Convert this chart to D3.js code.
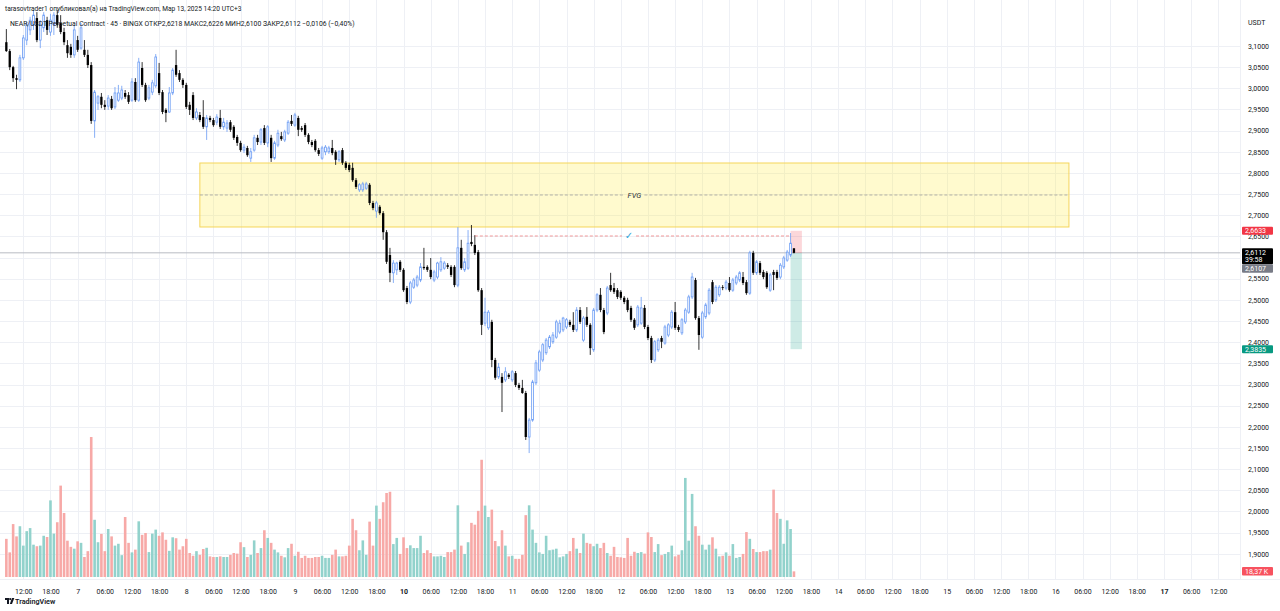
<!DOCTYPE html>
<html>
<head>
<meta charset="utf-8">
<script src="https://cdn.jsdelivr.net/npm/d3@7"></script>
<style>
  body { margin: 0; background: #fff; }
  svg { display: block; font-family: Roboto, "Noto Sans", sans-serif; }
</style>
</head>
<body>
<svg id="chart" width="1280" height="611"></svg>
<script>
// 45m candles, NEAR/USDT perp, one array per day: [open, high, low, close]
const candles6 = [
  [3.109,3.140,3.086,3.088],[3.088,3.093,3.043,3.050],[3.050,3.053,3.015,3.024],[3.024,3.032,2.998,3.020],
  [3.020,3.079,3.015,3.072],[3.072,3.126,3.067,3.119],[3.114,3.157,3.102,3.150],[3.138,3.169,3.126,3.161],
  [3.150,3.185,3.138,3.173],[3.166,3.180,3.109,3.114],[3.114,3.161,3.095,3.150],[3.143,3.180,3.133,3.173],
  [3.161,3.169,3.126,3.138],[3.133,3.176,3.124,3.161],[3.150,3.180,3.126,3.173],[3.173,3.185,3.143,3.150],
  [3.154,3.173,3.128,3.133],[3.133,3.143,3.102,3.109],[3.102,3.114,3.072,3.083],[3.098,3.105,3.072,3.079],
  [3.079,3.150,3.072,3.138]
];
const candles7 = [
  [3.114,3.124,3.086,3.091],[3.095,3.154,3.091,3.143],[3.091,3.114,3.074,3.079],[3.079,3.091,3.048,3.055],
  [3.055,3.062,2.916,2.923],[2.923,2.996,2.883,2.991],[2.965,2.984,2.949,2.980],[2.980,2.989,2.953,2.961],
  [2.961,2.972,2.949,2.956],[2.958,2.984,2.949,2.977],[2.975,2.982,2.949,2.953],[2.956,3.003,2.951,2.989],
  [2.972,3.008,2.968,2.989],[2.977,3.006,2.972,2.996],[2.989,2.996,2.975,2.980],[2.984,2.991,2.963,2.968],
  [2.972,3.024,2.968,3.015],[3.015,3.024,2.968,2.972],[2.972,3.072,2.968,3.062],[3.048,3.062,3.003,3.008],
  [3.008,3.013,2.968,2.972],[2.977,3.008,2.972,3.001],[2.991,3.020,2.984,3.013],[3.006,3.081,3.001,3.074],
  [3.036,3.060,2.984,2.989],[2.991,2.996,2.939,2.944],[2.949,2.953,2.920,2.942],[2.944,3.003,2.942,2.989],
  [2.989,3.048,2.984,3.043],[3.055,3.091,3.027,3.032],[3.036,3.043,3.015,3.020],[3.020,3.024,3.001,3.008]
];
const candles8 = [
  [3.008,3.013,2.951,2.956],[2.961,2.968,2.937,2.949],[2.984,2.991,2.925,2.930],[2.930,2.953,2.925,2.944],
  [2.937,2.944,2.920,2.925],[2.932,2.972,2.904,2.909],[2.909,2.937,2.878,2.930],[2.930,2.935,2.920,2.925],
  [2.925,2.930,2.909,2.913],[2.920,2.939,2.913,2.932],[2.930,2.949,2.904,2.909],[2.909,2.930,2.902,2.920],
  [2.906,2.925,2.897,2.918],[2.920,2.925,2.897,2.902],[2.909,2.913,2.878,2.883],[2.885,2.890,2.864,2.871],
  [2.871,2.876,2.850,2.854],[2.854,2.868,2.847,2.861],[2.859,2.864,2.838,2.842],[2.835,2.859,2.826,2.850],
  [2.854,2.890,2.850,2.883],[2.883,2.890,2.866,2.873],[2.873,2.906,2.866,2.902],[2.906,2.913,2.866,2.871],
  [2.871,2.913,2.861,2.909],[2.883,2.890,2.826,2.835],[2.835,2.876,2.831,2.871],[2.866,2.902,2.861,2.894],
  [2.887,2.897,2.876,2.880],[2.878,2.902,2.873,2.897],[2.894,2.925,2.890,2.920],[2.923,2.937,2.911,2.916]
];
const candles9 = [
  [2.913,2.942,2.909,2.937],[2.930,2.935,2.887,2.902],[2.906,2.911,2.897,2.902],[2.913,2.918,2.885,2.890],
  [2.890,2.894,2.868,2.873],[2.873,2.878,2.861,2.866],[2.876,2.880,2.850,2.854],[2.854,2.859,2.840,2.845],
  [2.835,2.864,2.831,2.859],[2.850,2.866,2.842,2.861],[2.850,2.864,2.845,2.859],[2.859,2.878,2.842,2.847],
  [2.850,2.854,2.819,2.831],[2.831,2.854,2.826,2.850],[2.854,2.859,2.819,2.824],[2.824,2.828,2.807,2.812],
  [2.819,2.824,2.802,2.807],[2.812,2.824,2.779,2.783],[2.783,2.788,2.762,2.767],[2.760,2.776,2.755,2.772],
  [2.760,2.779,2.755,2.774],[2.764,2.779,2.760,2.774],[2.772,2.776,2.724,2.729],[2.729,2.734,2.712,2.717],
  [2.710,2.734,2.694,2.729],[2.720,2.724,2.701,2.705],[2.705,2.710,2.642,2.660],[2.660,2.665,2.585,2.590],
  [2.606,2.623,2.542,2.564],[2.564,2.594,2.540,2.587],[2.571,2.590,2.559,2.587],[2.590,2.594,2.566,2.571]
];
const candles10 = [
  [2.571,2.575,2.519,2.523],[2.528,2.533,2.490,2.495],[2.495,2.545,2.490,2.540],[2.530,2.552,2.526,2.547],
  [2.535,2.559,2.530,2.554],[2.547,2.587,2.542,2.578],[2.578,2.623,2.571,2.575],[2.578,2.582,2.566,2.571],
  [2.571,2.599,2.549,2.554],[2.547,2.571,2.542,2.566],[2.554,2.590,2.549,2.587],[2.571,2.601,2.566,2.590],
  [2.575,2.592,2.571,2.587],[2.582,2.587,2.573,2.578],[2.578,2.582,2.554,2.559],[2.578,2.582,2.530,2.535],
  [2.535,2.672,2.530,2.623],[2.623,2.642,2.571,2.575],[2.571,2.599,2.566,2.590],[2.575,2.665,2.571,2.634],
  [2.637,2.677,2.627,2.632],[2.630,2.653,2.606,2.611],[2.613,2.618,2.519,2.523],[2.523,2.528,2.417,2.441],
  [2.445,2.505,2.438,2.471],[2.434,2.476,2.429,2.471],[2.448,2.453,2.341,2.358],[2.358,2.363,2.311,2.316],
  [2.318,2.351,2.313,2.341],[2.318,2.327,2.235,2.304],[2.311,2.341,2.306,2.330],[2.323,2.327,2.313,2.318]
];
const candles11 = [
  [2.311,2.334,2.306,2.330],[2.327,2.332,2.294,2.299],[2.299,2.304,2.287,2.292],[2.292,2.311,2.278,2.280],
  [2.280,2.285,2.169,2.176],[2.176,2.221,2.138,2.216],[2.216,2.311,2.212,2.306],[2.304,2.358,2.299,2.351],
  [2.334,2.382,2.330,2.377],[2.358,2.398,2.353,2.394],[2.375,2.410,2.370,2.405],[2.389,2.417,2.384,2.412],
  [2.401,2.424,2.396,2.417],[2.412,2.453,2.408,2.448],[2.424,2.453,2.419,2.445],[2.429,2.460,2.424,2.457],
  [2.436,2.457,2.431,2.453],[2.448,2.453,2.436,2.441],[2.441,2.471,2.424,2.429],[2.429,2.483,2.424,2.476],
  [2.476,2.483,2.443,2.448],[2.405,2.462,2.401,2.457],[2.460,2.483,2.436,2.441],[2.441,2.445,2.370,2.386],
  [2.382,2.481,2.377,2.476],[2.476,2.516,2.471,2.512],[2.512,2.528,2.471,2.476],[2.476,2.481,2.419,2.424],
  [2.469,2.533,2.464,2.528],[2.535,2.564,2.519,2.523],[2.528,2.540,2.514,2.519],[2.523,2.528,2.502,2.507]
];
const candles12 = [
  [2.519,2.523,2.500,2.505],[2.505,2.509,2.490,2.495],[2.500,2.505,2.471,2.476],[2.481,2.486,2.448,2.453],
  [2.453,2.457,2.429,2.434],[2.441,2.488,2.436,2.483],[2.445,2.507,2.441,2.481],[2.481,2.488,2.431,2.436],
  [2.436,2.441,2.405,2.410],[2.410,2.415,2.351,2.358],[2.358,2.405,2.353,2.401],[2.382,2.410,2.377,2.405],
  [2.410,2.415,2.386,2.401],[2.398,2.441,2.394,2.436],[2.417,2.445,2.412,2.441],[2.436,2.476,2.431,2.471],
  [2.471,2.495,2.429,2.434],[2.436,2.441,2.424,2.429],[2.422,2.457,2.417,2.453],[2.448,2.481,2.443,2.476],
  [2.471,2.512,2.467,2.507],[2.507,2.564,2.502,2.554],[2.547,2.552,2.453,2.457],[2.457,2.462,2.382,2.417],
  [2.412,2.474,2.408,2.469],[2.460,2.493,2.455,2.488],[2.469,2.528,2.464,2.523],[2.542,2.547,2.490,2.495],
  [2.500,2.535,2.495,2.530],[2.512,2.535,2.507,2.530],[2.530,2.535,2.523,2.528],[2.528,2.547,2.523,2.542]
];
const candles13 = [
  [2.540,2.554,2.519,2.523],[2.523,2.552,2.519,2.547],[2.540,2.559,2.535,2.554],[2.547,2.568,2.542,2.564],
  [2.554,2.566,2.535,2.540],[2.542,2.547,2.512,2.516],[2.516,2.616,2.512,2.611],[2.611,2.616,2.559,2.564],
  [2.564,2.594,2.559,2.590],[2.587,2.592,2.559,2.564],[2.566,2.571,2.549,2.554],[2.564,2.568,2.526,2.530],
  [2.523,2.564,2.519,2.559],[2.566,2.571,2.523,2.559],[2.566,2.571,2.547,2.552],[2.554,2.587,2.549,2.582],
  [2.578,2.604,2.573,2.599],[2.594,2.618,2.590,2.613],[2.606,2.658,2.601,2.634],[2.6218,2.6226,2.6100,2.6112]
];

// volume per candle, thousands
const volume6 = [124,80,172,132,165,102,149,159,105,100,102,134,130,249,141,178,297,208,118,98,92];
const volume7 = [116,111,65,84,455,186,113,140,84,156,132,102,108,71,195,111,80,89,181,
  137,143,81,141,154,134,145,121,85,129,126,89,100];
const volume8 = [124,78,69,84,72,91,95,67,65,65,67,65,65,72,78,76,113,97,65,72,119,78,94,152,127,111,89,
  80,69,64,94,108];
const volume9 = [69,82,62,69,62,62,65,65,69,62,62,72,89,67,67,69,102,189,152,87,119,72,180,102,232,
  189,243,273,277,107,127,75];
const volume10 = [129,94,103,94,94,134,78,87,78,67,67,69,65,81,81,89,233,102,75,
  113,176,170,215,381,232,195,219,117,100,152,102,67];
const volume11 = [69,59,59,72,201,233,154,111,80,75,134,87,89,92,64,67,75,84,127,92,78,141,111,108,100,108,94,
  111,78,69,98,65];
const volume12 = [64,62,127,69,82,78,81,76,145,130,81,107,71,75,81,102,67,72,87,322,118,270,165,134,105,
  89,105,129,92,67,69,80];
const volume13 = [69,107,62,65,75,146,124,91,81,81,84,84,89,284,208,189,108,184,156,18.37];

const firstCandle = Date.UTC(2025, 2, 6, 8, 15);
const candleMs = 45 * 60 * 1000;

// drawings
const fvgZone = { from: Date.UTC(2025, 2, 8, 3, 0), to: Date.UTC(2025, 2, 16, 3, 0), top: 2.8235, bottom: 2.6723, label: "FVG" };
const sweepLine = { from: Date.UTC(2025, 2, 10, 15, 45), to: Date.UTC(2025, 2, 13, 13, 30), price: 2.651 };
const position = { from: Date.UTC(2025, 2, 13, 13, 30), to: Date.UTC(2025, 2, 13, 16, 0), entry: 2.6107, stop: 2.6633, target: 2.3835 };
const lastPrice = 2.6112, countdown = "39:58", lastVolume = "18,37 K";

// 2,6000 sits under the last-price tag, so it is left out like on the original
const priceTicks = d3.range(1.9, 3.1001, 0.05);
const priceLabels = priceTicks.filter(p => Math.abs(p - 2.6) > 0.001);
const timeTicks = d3.utcHour.every(6).range(new Date(Date.UTC(2025, 2, 6, 12)), new Date(Date.UTC(2025, 2, 17, 13)));
const boldDays = [10, 17];

const headerLine1 = "tarasovtrader1 опубликовал(а) на TradingView.com, Мар 13, 2025 14:20 UTC+3";
const headerTitle = "NEAR/USDT Perpetual Contract · 45 · BINGX";
const headerOhlc = [["ОТКР", "2,6218"], ["МАКС", "2,6226"], ["МИН", "2,6100"], ["ЗАКР", "2,6112"]];
const headerChange = "−0,0106 (−0,40%)";

const allCandles = [].concat(candles6, candles7, candles8, candles9, candles10, candles11, candles12, candles13);
const allVolumes = [].concat(volume6, volume7, volume8, volume9, volume10, volume11, volume12, volume13);
const bars = allCandles.map((d, i) => ({
  t: new Date(firstCandle + i * candleMs), o: d[0], h: d[1], l: d[2], c: d[3], v: allVolumes[i]
}));

const W = 1280, H = 611, plotRight = 1240, plotBottom = 579;
const ink = "#131722", upColor = "#6a9bf4", downColor = "#000000";

const loc = d3.formatLocale({ decimal: ",", thousands: " ", grouping: [3], currency: ["", ""] });
const fmtPrice = loc.format(".4f");

const x = d3.scaleUtc()
  .domain([new Date(Date.UTC(2025, 2, 6)), new Date(Date.UTC(2025, 2, 17))])
  .range([-31, 1164]);
const y = d3.scaleLinear().domain([2.15, 3.1]).range([448, 46]);
const yv = d3.scaleLinear().domain([0, 455]).range([577, 437]);

const svg = d3.select("#chart");
svg.append("rect").attr("width", W).attr("height", H).attr("fill", "#fff");

// grid
const grid = svg.append("g");
grid.selectAll(".hg").data(priceTicks).join("line")
  .attr("x1", 0).attr("x2", plotRight)
  .attr("y1", d => Math.round(y(d)) + 0.5).attr("y2", d => Math.round(y(d)) + 0.5)
  .attr("stroke", "#eef0f5");
grid.selectAll(".vg").data(timeTicks).join("line")
  .attr("x1", d => Math.round(x(d)) + 0.5).attr("x2", d => Math.round(x(d)) + 0.5)
  .attr("y1", 0).attr("y2", plotBottom)
  .attr("stroke", "#eef0f5");

// FVG zone
svg.append("rect")
  .attr("x", x(fvgZone.from)).attr("width", x(fvgZone.to) - x(fvgZone.from))
  .attr("y", y(fvgZone.top)).attr("height", y(fvgZone.bottom) - y(fvgZone.top))
  .attr("fill", "rgba(255,235,59,0.25)").attr("stroke", "#f5d55a").attr("stroke-width", 1);
const fvgMid = y((fvgZone.top + fvgZone.bottom) / 2);
const fvgCx = (x(fvgZone.from) + x(fvgZone.to)) / 2;
svg.append("line").attr("x1", x(fvgZone.from)).attr("x2", fvgCx - 10)
  .attr("y1", fvgMid).attr("y2", fvgMid)
  .attr("stroke", "#a0a0a0").attr("stroke-dasharray", "3,2").attr("stroke-width", 0.8);
svg.append("line").attr("x1", fvgCx + 10).attr("x2", x(fvgZone.to))
  .attr("y1", fvgMid).attr("y2", fvgMid)
  .attr("stroke", "#a0a0a0").attr("stroke-dasharray", "3,2").attr("stroke-width", 0.8);
svg.append("text").attr("x", fvgCx).attr("y", fvgMid + 2.7)
  .attr("text-anchor", "middle").attr("font-size", 7.5).attr("font-style", "italic")
  .attr("fill", "#2a2e39").text(fvgZone.label);

// volume
svg.append("g").selectAll("rect").data(bars).join("rect")
  .attr("x", d => x(d.t) - 1.3).attr("width", 2.6)
  .attr("y", d => yv(d.v)).attr("height", d => yv(0) - yv(d.v))
  .attr("fill", d => d.c >= d.o ? "#92d2cc" : "#f7a9a7");

// last price line
svg.append("line").attr("x1", 0).attr("x2", plotRight)
  .attr("y1", y(lastPrice)).attr("y2", y(lastPrice))
  .attr("stroke", "#b8bbc2").attr("stroke-width", 1);

// position tool
svg.append("rect").attr("x", x(position.from)).attr("width", x(position.to) - x(position.from))
  .attr("y", y(position.stop)).attr("height", y(position.entry) - y(position.stop))
  .attr("fill", "rgba(242,54,69,0.2)");
svg.append("rect").attr("x", x(position.from)).attr("width", x(position.to) - x(position.from))
  .attr("y", y(position.entry)).attr("height", y(position.target) - y(position.entry))
  .attr("fill", "rgba(8,153,129,0.2)");

// candles
const cg = svg.append("g");
cg.selectAll("line").data(bars).join("line")
  .attr("x1", d => x(d.t)).attr("x2", d => x(d.t))
  .attr("y1", d => y(d.h)).attr("y2", d => y(d.l))
  .attr("stroke", d => d.c >= d.o ? upColor : downColor).attr("stroke-width", 0.8);
cg.selectAll("rect").data(bars).join("rect")
  .attr("x", d => x(d.t) - (d.c >= d.o ? 0.9 : 1.15))
  .attr("width", d => d.c >= d.o ? 1.8 : 2.3)
  .attr("y", d => y(Math.max(d.o, d.c)))
  .attr("height", d => Math.max(0.8, Math.abs(y(d.o) - y(d.c))))
  .attr("fill", d => d.c >= d.o ? "#fff" : downColor)
  .attr("stroke", d => d.c >= d.o ? upColor : "none")
  .attr("stroke-width", 0.8);

// sweep line with check mark
const swMid = 629;
svg.append("line").attr("x1", x(sweepLine.from)).attr("x2", swMid - 7)
  .attr("y1", y(sweepLine.price)).attr("y2", y(sweepLine.price))
  .attr("stroke", "#f08080").attr("stroke-dasharray", "3,2").attr("stroke-width", 0.8);
svg.append("line").attr("x1", swMid + 7).attr("x2", x(sweepLine.to))
  .attr("y1", y(sweepLine.price)).attr("y2", y(sweepLine.price))
  .attr("stroke", "#f08080").attr("stroke-dasharray", "3,2").attr("stroke-width", 0.8);
svg.append("text").attr("x", swMid).attr("y", y(sweepLine.price) + 3.5)
  .attr("text-anchor", "middle").attr("font-size", 10).attr("font-weight", "bold")
  .attr("font-family", "DejaVu Sans, sans-serif")
  .attr("fill", "#2fa4d9").text("✓");

// frame lines
svg.append("line").attr("x1", plotRight + 0.5).attr("x2", plotRight + 0.5)
  .attr("y1", 0).attr("y2", plotBottom).attr("stroke", "#eef0f5");
svg.append("line").attr("x1", 0).attr("x2", W)
  .attr("y1", plotBottom + 0.5).attr("y2", plotBottom + 0.5).attr("stroke", "#eef0f5");

// price axis
const yAxis = svg.append("g").attr("transform", `translate(${plotRight + 8},0)`)
  .call(d3.axisRight(y).tickValues(priceLabels).tickFormat(fmtPrice).tickSize(0).tickPadding(0));
yAxis.select(".domain").remove();
yAxis.selectAll("text").attr("font-size", 7).attr("fill", ink).attr("font-family", "Roboto, sans-serif");

svg.append("text").attr("x", plotRight + 8).attr("y", 24.5)
  .attr("font-size", 7).attr("fill", ink).text("USDT");

// time axis
const xAxis = svg.append("g").attr("transform", `translate(0,${plotBottom + 10})`)
  .call(d3.axisBottom(x).tickValues(timeTicks).tickSize(0).tickPadding(0)
    .tickFormat(d => d.getUTCHours() === 0 ? String(d.getUTCDate()) : d3.utcFormat("%H:%M")(d)));
xAxis.select(".domain").remove();
xAxis.selectAll("text").attr("font-size", 7).attr("fill", ink).attr("font-family", "Roboto, sans-serif")
  .attr("font-weight", d => d.getUTCHours() === 0 && boldDays.includes(d.getUTCDate()) ? "bold" : "normal");

// tags on the price axis
function axisTag(cy, h, fill) {
  svg.append("rect").attr("x", plotRight + 2).attr("width", 31)
    .attr("y", cy - h / 2).attr("height", h).attr("rx", 1).attr("fill", fill);
}
function tagText(ty, text) {
  svg.append("text").attr("x", plotRight + 5).attr("y", ty).attr("font-size", 7).attr("fill", "#fff").text(text);
}
const stopY = y(position.stop);
axisTag(stopY, 8, "#f23645");
tagText(stopY + 2.5, fmtPrice(position.stop));
const targetY = y(position.target);
axisTag(targetY, 8, "#089981");
tagText(targetY + 2.5, fmtPrice(position.target));

const lpY = y(lastPrice);
svg.append("rect").attr("x", plotRight + 2).attr("width", 31).attr("y", lpY - 4.5).attr("height", 16)
  .attr("rx", 1).attr("fill", "#000");
tagText(lpY + 2, fmtPrice(lastPrice));
tagText(lpY + 9.5, countdown);
svg.append("rect").attr("x", plotRight + 2).attr("width", 31).attr("y", lpY + 11.5).attr("height", 8.5)
  .attr("rx", 1).attr("fill", "#787b86");
tagText(lpY + 18.2, fmtPrice(position.entry));

const lvY = yv(allVolumes[allVolumes.length - 1]);
axisTag(lvY, 8.5, "#f7525f");
tagText(lvY + 2.5, lastVolume);

// header
svg.append("text").attr("x", 5).attr("y", 10.5).attr("font-size", 6.6).attr("fill", ink).text(headerLine1);
const h2 = svg.append("text").attr("x", 10).attr("y", 25.5).attr("font-size", 6.8).attr("fill", ink);
h2.append("tspan").text(headerTitle + "  ");
headerOhlc.forEach(([k, v]) => {
  h2.append("tspan").text(k + v + "  ");
});
h2.append("tspan").text(headerChange);

// footer logo
const logo = svg.append("g").attr("transform", "translate(5,598)").attr("fill", ink);
logo.append("path").attr("d", "M0,0 H4 V6 H2 V2 H0 Z");
logo.append("circle").attr("cx", 5.2).attr("cy", 1.1).attr("r", 1.1);
logo.append("path").attr("d", "M7,0 H9.3 L7,6 H4.8 Z");
svg.append("text").attr("x", 15).attr("y", 604).attr("font-size", 7.2).attr("font-weight", 600)
  .attr("fill", ink).text("TradingView");
</script>
</body>
</html>
